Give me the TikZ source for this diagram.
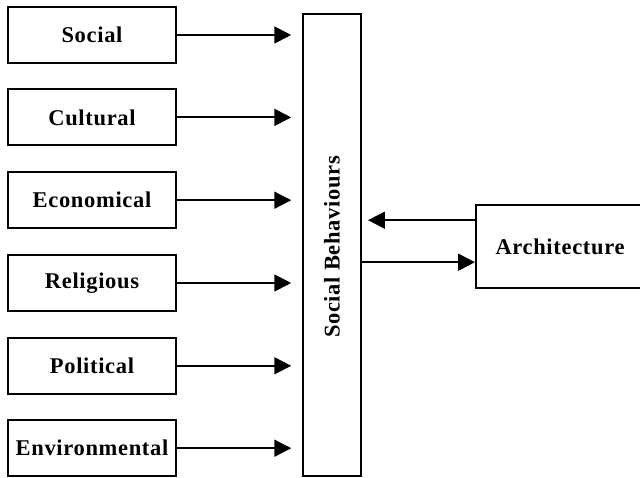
\documentclass[tikz,border=0pt]{standalone}
\usepackage{fontspec}
\setmainfont{Liberation Serif}[LetterSpace=3]
\usetikzlibrary{arrows.meta, positioning, calc}

\begin{document}
\begin{tikzpicture}[
    factor/.style={draw, line width=1.4pt, minimum width=4.2cm, minimum height=1.4cm, align=center, font=\fontsize{16}{19}\selectfont\bfseries},
    central/.style={draw, line width=1.4pt, minimum width=1.45cm, minimum height=11.55cm, font=\fontsize{16}{19}\selectfont\bfseries},
    link/.style={line width=1.4pt, -{Triangle[length=0.42cm, width=0.42cm]}}
]
    \useasboundingbox (0,0) rectangle (16,11.925);

    % Factors
    \node[factor] (social) at (2.3,11.05) {Social};
    \node[factor] (cultural) at (2.3,8.99) {Cultural};
    \node[factor] (economical) at (2.3,6.92) {Economical};
    \node[factor] (religious) at (2.3,4.85) {Religious};
    \node[factor] (political) at (2.3,2.78) {Political};
    \node[factor] (environmental) at (2.3,0.72) {Environmental};

    % Social behaviours and architecture
    \node[central] (behav) at (8.3,5.8) {};
    \node[rotate=90, font=\fontsize{16}{19}\selectfont\bfseries] (behavtext) at (8.3,5.75) {Social Behaviours};
    \node[factor, minimum height=2.075cm] (arch) at (14,5.76) {Architecture};

    % Connections
    \foreach \f in {social, cultural, economical, religious, political, environmental}
        \draw[link, shorten >=0.27cm] (\f.east) -- (\f.east -| behav.west);

    \draw[link, shorten >=0.15cm] ([yshift=0.66cm]arch.west) -- ([yshift=0.66cm]arch.west -| behav.east);
    \draw[link] ([yshift=-0.39cm]arch.west -| behav.east) -- ([yshift=-0.39cm]arch.west);
\end{tikzpicture}
\end{document}
